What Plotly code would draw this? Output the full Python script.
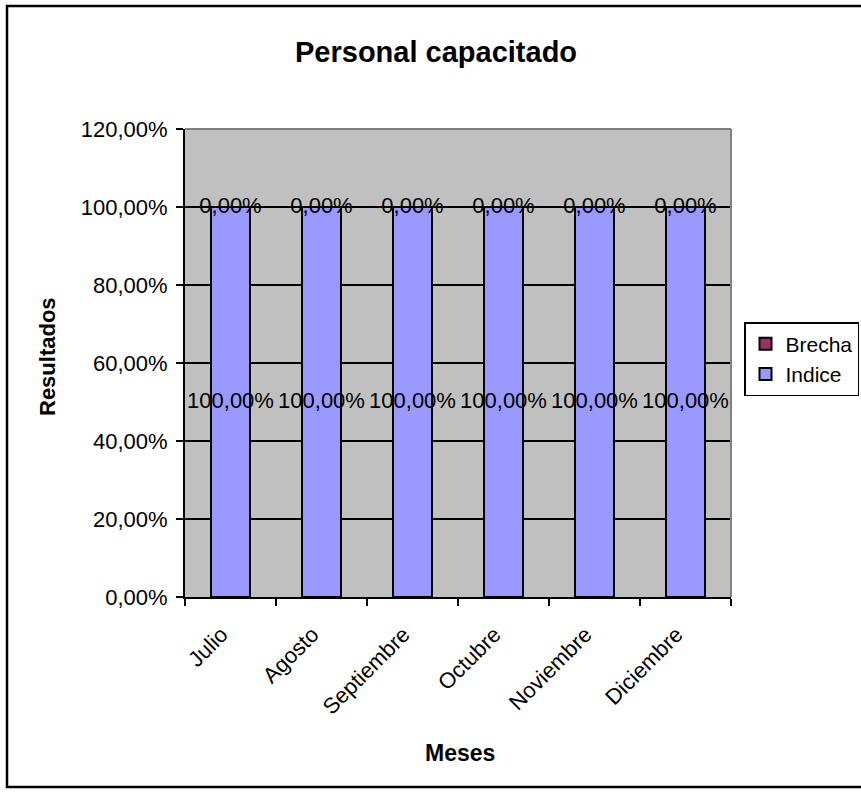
import plotly.graph_objects as go

# Monthly training results: achieved index and remaining gap
meses = ["Julio", "Agosto", "Septiembre", "Octubre", "Noviembre", "Diciembre"]
indice = [1.0, 1.0, 1.0, 1.0, 1.0, 1.0]
brecha = [0.0, 0.0, 0.0, 0.0, 0.0, 0.0]

titulo = "Personal capacitado"
titulo_x = "Meses"
titulo_y = "Resultados"

FONT = "Arial, 'Liberation Sans', sans-serif"
W, H = 861, 792
L, R, T, B = 185, 130, 129, 195
PW, PH = W - L - R, H - T - B


def px_x(x):
    return (x - L) / PW


def px_y(y):
    return (H - B - y) / PH


def pct(v):
    return f"{v * 100:.2f}".replace(".", ",") + "%"


fig = go.Figure()

fig.add_trace(go.Bar(
    x=meses, y=indice, name="Indice", legendgroup="indice",
    marker=dict(color="#9999FF", line=dict(color="black", width=2)),
))
fig.add_trace(go.Bar(
    x=meses, y=brecha, name="Brecha", legendgroup="brecha",
    marker=dict(color="#993366", line=dict(color="black", width=2)),
))

# Value labels centred on each stacked segment
mid_indice = [v / 2 for v in indice]
mid_brecha = [i + b / 2 for i, b in zip(indice, brecha)]
for mids, vals in ((mid_indice, indice), (mid_brecha, brecha)):
    fig.add_trace(go.Scatter(
        x=meses, y=mids, mode="text",
        text=[pct(v) for v in vals], textposition="middle center",
        textfont=dict(family=FONT, size=22, color="black"),
        showlegend=False, hoverinfo="skip", cliponaxis=False,
    ))

fig.update_layout(
    width=W, height=H,
    margin=dict(l=L, r=R, t=T, b=B, autoexpand=False),
    paper_bgcolor="white",
    plot_bgcolor="#C0C0C0",
    barmode="stack",
    bargap=0.57,
    separators=",.",
    font=dict(family=FONT, size=22, color="black"),
    showlegend=True,
    legend=dict(
        x=px_x(744), y=px_y(322), xanchor="left", yanchor="top",
        bordercolor="black", borderwidth=1.5, bgcolor="white",
        font=dict(size=21), traceorder="reversed",
        itemwidth=30, tracegroupgap=6,
    ),
    xaxis=dict(
        type="category",
        tickangle=-45,
        ticks="outside", ticklen=7, tickwidth=1.5, tickcolor="black",
        tickson="boundaries",
        ticklabelstandoff=14, ticklabelshift=-9,
        showline=True, linecolor="black", linewidth=2,
        showgrid=False,
        tickfont=dict(size=22),
    ),
    yaxis=dict(
        range=[0, 1.2], dtick=0.2, tickformat=".2%",
        ticks="outside", ticklen=7, tickwidth=1.5, tickcolor="black",
        ticklabelstandoff=4,
        showline=True, linecolor="black", linewidth=2,
        showgrid=True, gridcolor="black", gridwidth=1.5,
        zeroline=False,
        tickfont=dict(size=22),
    ),
    annotations=[
        dict(text=f"<b>{titulo}</b>", x=px_x(435.5), y=px_y(52),
             xref="paper", yref="paper", showarrow=False,
             font=dict(size=29), xanchor="center", yanchor="middle"),
        dict(text=f"<b>{titulo_x}</b>", x=px_x(460), y=px_y(753),
             xref="paper", yref="paper", showarrow=False,
             font=dict(size=23), xanchor="center", yanchor="middle"),
        dict(text=f"<b>{titulo_y}</b>", x=px_x(47), y=px_y(357),
             xref="paper", yref="paper", showarrow=False, textangle=-90,
             font=dict(size=22), xanchor="center", yanchor="middle"),
    ],
    shapes=[
        # grey border on top and right of the plot area
        dict(type="line", xref="paper", yref="paper", x0=0, x1=1, y0=1, y1=1,
             line=dict(color="#808080", width=2), layer="above"),
        dict(type="line", xref="paper", yref="paper", x0=1, x1=1, y0=0, y1=1,
             line=dict(color="#808080", width=2), layer="above"),
        # outer chart frame
        dict(type="rect", xref="paper", yref="paper",
             x0=px_x(7), x1=px_x(863), y0=px_y(787), y1=px_y(6),
             line=dict(color="black", width=2.5), layer="below"),
    ],
)

fig.write_html("out.html")
